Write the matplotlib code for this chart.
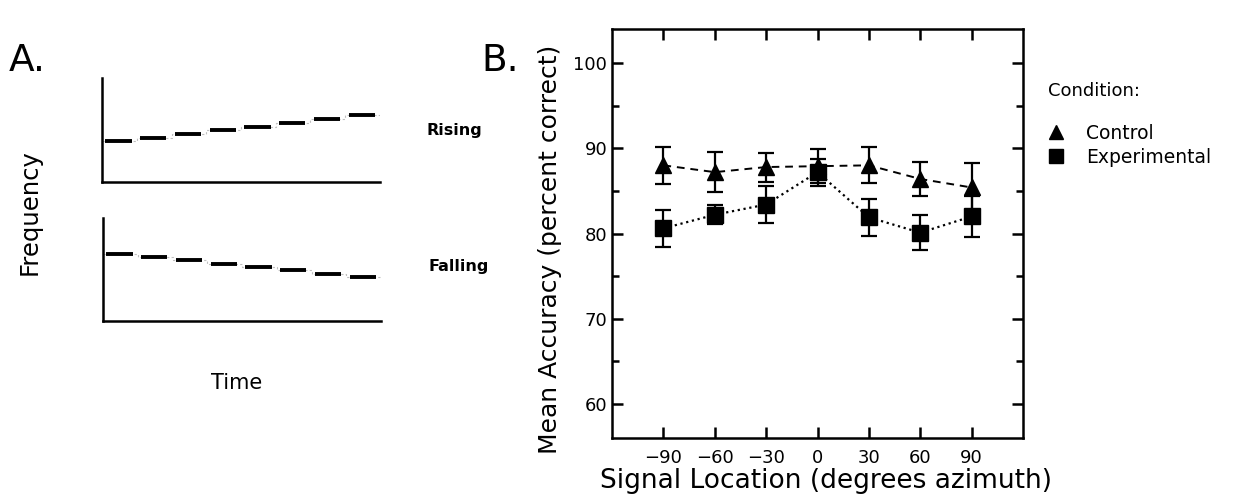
import numpy as np
import matplotlib
matplotlib.use('Agg')
import matplotlib.pyplot as plt
from matplotlib.lines import Line2D

# Panel A: step levels of the two sweep sketches (fraction of axis height)
rising_levels = [0.39, 0.42, 0.46, 0.50, 0.53, 0.57, 0.60, 0.64]
falling_levels = [0.65, 0.62, 0.59, 0.55, 0.52, 0.49, 0.45, 0.42]

# Panel B: mean accuracy by signal location
locations = [-90, -60, -30, 0, 30, 60, 90]
control_mean = [88.0, 87.2, 87.8, 87.9, 88.0, 86.4, 85.4]
control_err = [2.2, 2.35, 1.7, 2.0, 2.1, 2.0, 2.9]
experimental_mean = [80.6, 82.2, 83.4, 87.2, 81.9, 80.1, 82.0]
experimental_err = [2.2, 1.1, 2.15, 1.6, 2.15, 2.05, 2.4]

plt.rcParams['font.family'] = ['DejaVu Sans']

fig = plt.figure(figsize=(12.33, 5.01), dpi=100)


def sketch(ax, levels):
    n = len(levels)
    xs = []
    ys = []
    for i, lv in enumerate(levels):
        xs += [i, i + 1]
        ys += [lv, lv]
    ax.plot(xs, ys, color='0.75', lw=0.8, ls=(0, (2, 2)))
    for i, lv in enumerate(levels):
        ax.plot([i + 0.1, i + 0.85], [lv, lv], color='black', lw=2.8,
                solid_capstyle='butt')
    ax.set_xlim(0, n)
    ax.set_ylim(0, 1)
    ax.set_xticks([])
    ax.set_yticks([])
    for s in ['top', 'right']:
        ax.spines[s].set_visible(False)
    for s in ['left', 'bottom']:
        ax.spines[s].set_linewidth(1.8)


ax_r = fig.add_axes([102 / 1233, 1 - 181.5 / 501, 278 / 1233, 103.5 / 501])
sketch(ax_r, rising_levels)
ax_f = fig.add_axes([103 / 1233, 1 - 320.5 / 501, 278 / 1233, 103 / 501])
sketch(ax_f, falling_levels)

fig.text(427 / 1233, 1 - 131 / 501, 'Rising', fontsize=11.5, fontweight='bold',
         va='center', ha='left')
fig.text(428 / 1233, 1 - 267 / 501, 'Falling', fontsize=11.5, fontweight='bold',
         va='center', ha='left')
fig.text(30 / 1233, 1 - 212 / 501, 'Frequency', fontsize=17.5, rotation=90,
         va='center', ha='center')
fig.text(237 / 1233, 1 - 383 / 501, 'Time', fontsize=15, va='center', ha='center')
fig.text(9 / 1233, 1 - 61 / 501, 'A.', fontsize=27, va='center', ha='left')
fig.text(481 / 1233, 1 - 61 / 501, 'B.', fontsize=27, va='center', ha='left')

# Panel B
ax = fig.add_axes([612 / 1233, 1 - 438 / 501, 411 / 1233, 409 / 501])
ax.errorbar(locations, control_mean, yerr=control_err, color='black', ls='--',
            lw=1.4, dashes=(4, 3), marker='^', ms=11, capsize=5.5, elinewidth=1.6,
            capthick=1.6, zorder=3)
ax.errorbar(locations, experimental_mean, yerr=experimental_err, color='black',
            ls=':', lw=1.6, marker='s', ms=11, capsize=5.5, elinewidth=1.6,
            capthick=1.6, zorder=3)
ax.set_xlim(-120, 120)
ax.set_ylim(56, 104)
ax.set_xticks(locations)
ax.set_xticklabels(['\u221290', '\u221260', '\u221230', '0', '30', '60', '90'])
ax.set_yticks([60, 70, 80, 90, 100])
ax.set_yticks([65, 75, 85, 95], minor=True)
ax.tick_params(which='both', direction='in', top=True, right=True, width=1.8,
               labelsize=13)
ax.tick_params(which='major', length=8)
ax.tick_params(which='minor', length=5)
ax.tick_params(axis='x', pad=8)
for s in ax.spines.values():
    s.set_linewidth(1.8)
ax.set_xlabel('Signal Location (degrees azimuth)', fontsize=19, labelpad=1)
ax.set_ylabel('Mean Accuracy (percent correct)', fontsize=18, labelpad=8)
ax.xaxis.label.set_x(0.52)
ax.yaxis.label.set_y(0.46)

fig.text(1048 / 1233, 1 - 91 / 501, 'Condition:', fontsize=13, va='center',
         ha='left')
handles = [Line2D([], [], color='black', marker='^', ls='none', ms=10),
           Line2D([], [], color='black', marker='s', ls='none', ms=10)]
fig.legend(handles, ['Control', 'Experimental'], loc='upper left',
           bbox_to_anchor=(1028 / 1233, 1 - 107 / 501), frameon=False,
           fontsize=13.5, handletextpad=1.0, handlelength=1.2, labelspacing=0.25)

fig.savefig('out.png', dpi=100)
